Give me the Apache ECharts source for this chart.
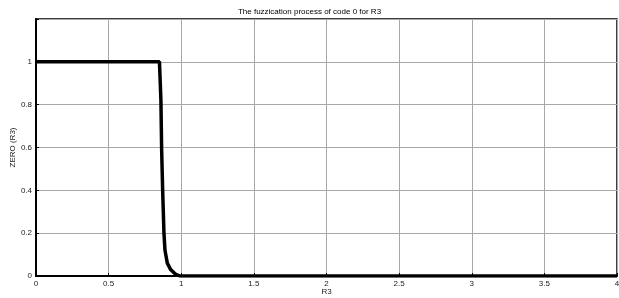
<!DOCTYPE html>
<html>
<head>
<meta charset="utf-8">
<script src="https://cdn.jsdelivr.net/npm/echarts@6/dist/echarts.min.js"></script>
<style>
html,body{margin:0;padding:0;background:#fff;}
#chart{width:619px;height:298px;}
</style>
</head>
<body>
<div id="chart"></div>
<script>
// membership curve ZERO(R3)
const r3Values = [0, 0.5, 0.85, 0.86, 0.865, 0.872, 0.881, 0.888, 0.904, 0.927, 0.957, 0.99, 1.5, 2, 3, 4];
const zeroValues = [1, 1, 1, 0.82, 0.59, 0.40, 0.20, 0.12, 0.06, 0.03, 0.01, 0, 0, 0, 0, 0];
const xTicks = [0, 0.5, 1, 1.5, 2, 2.5, 3, 3.5, 4];
const yTicks = [0, 0.2, 0.4, 0.6, 0.8, 1];

const chartDom = document.getElementById('chart');
const myChart = echarts.init(chartDom);

const font = 'Liberation Sans, Arial, sans-serif';
const gridLine = { show: true, lineStyle: { color: '#a8a8a8', width: 1 } };

const option = {
  animation: false,
  title: {
    text: 'The fuzzication process of code 0 for R3',
    left: 'center',
    top: 3,
    textStyle: { fontSize: 8, fontWeight: 'normal', color: '#000', fontFamily: font }
  },
  grid: { left: 36, right: 2, top: 19, bottom: 22, containLabel: false, outerBoundsMode: 'none',
    show: true, borderColor: '#000', borderWidth: 1.5, backgroundColor: 'transparent' },
  xAxis: {
    type: 'value', min: 0, max: 4, interval: 0.5,
    name: 'R3', nameLocation: 'middle', nameGap: 12, nameMoveOverlap: false,
    nameTextStyle: { fontSize: 8, color: '#222', fontFamily: font },
    axisLine: { show: true, lineStyle: { color: '#000', width: 2 } },
    axisTick: { show: true, inside: true, length: 3, lineStyle: { color: '#000' } },
    axisLabel: { fontSize: 8, color: '#222', fontFamily: font, margin: 4,
      formatter: v => xTicks.includes(v) ? String(v) : '' },
    splitLine: gridLine
  },
  yAxis: {
    type: 'value', min: 0, max: 1.2, interval: 0.2,
    name: 'ZERO (R3)', nameLocation: 'middle', nameGap: 19, nameMoveOverlap: false,
    nameTextStyle: { fontSize: 8, color: '#222', fontFamily: font },
    axisLine: { show: true, lineStyle: { color: '#000', width: 2 } },
    axisTick: { show: true, inside: true, length: 3, lineStyle: { color: '#000' } },
    axisLabel: { fontSize: 8, color: '#222', fontFamily: font, margin: 4,
      formatter: v => yTicks.some(t => Math.abs(t - v) < 1e-9) ? String(+v.toFixed(1)) : '' },
    splitLine: gridLine
  },
  series: [
    {
      type: 'line',
      data: r3Values.map((x, i) => [x, zeroValues[i]]),
      showSymbol: false,
      smooth: false,
      lineStyle: { color: '#000', width: 3.5 },
      z: 5
    }
  ]
};

option && myChart.setOption(option);
</script>
</body>
</html>
